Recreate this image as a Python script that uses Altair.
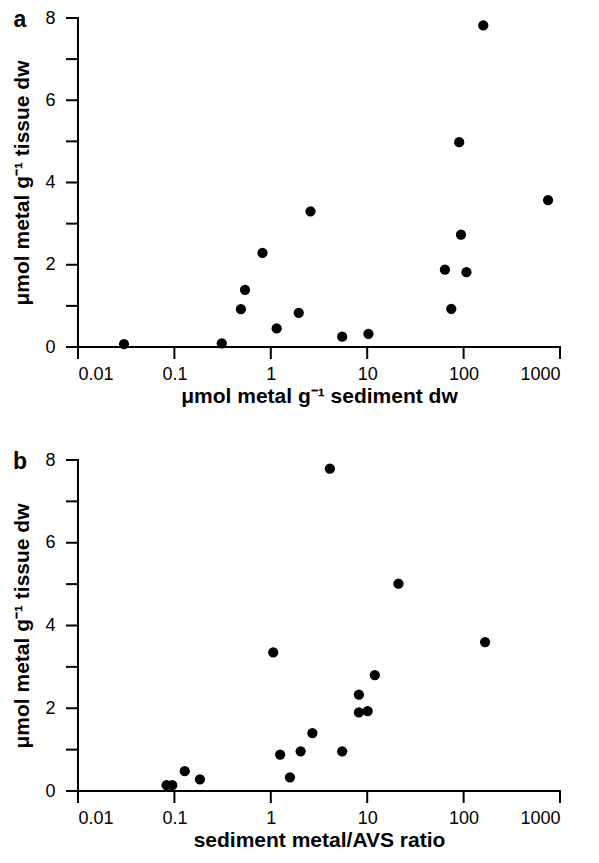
import altair as alt
import pandas as pd

# Panel a: sediment metal vs tissue metal
sed_a = [0.030, 0.31, 0.49, 0.54, 0.82, 1.15, 1.95, 2.58, 5.5, 10.3, 64, 74.5, 94, 107, 160, 90, 752]
tis_a = [0.07, 0.09, 0.92, 1.39, 2.29, 0.45, 0.83, 3.30, 0.25, 0.32, 1.88, 0.93, 2.73, 1.82, 7.82, 4.98, 3.57]

# Panel b: sediment metal/AVS ratio vs tissue metal
avs_b = [0.083, 0.095, 0.128, 0.184, 1.06, 1.25, 1.58, 2.04, 2.70, 5.5, 8.2, 8.2, 10.1, 12.0, 167, 4.1, 21.1]
tis_b = [0.14, 0.14, 0.48, 0.28, 3.35, 0.88, 0.33, 0.96, 1.40, 0.96, 2.33, 1.90, 1.93, 2.80, 3.60, 7.79, 5.01]

x_ticks = [0.01, 0.1, 1, 10, 100, 1000]
y_ticks = [0, 1, 2, 3, 4, 5, 6, 7, 8]

FONT = "Liberation Sans"
YTITLE = "μmol metal g⁻¹ tissue dw"
W = 482
TICK = 12

axis_style = dict(
    domain=False, ticks=False, grid=False,
    labelFont=FONT, labelFontSize=18, labelColor="#000000",
    titleFont=FONT, titleFontSize=21, titleFontWeight="bold", titleColor="#000000",
)

XSC = alt.Scale(type="log", domain=[0.01, 1000], nice=False)
YSC = alt.Scale(domain=[0, 8], nice=False, zero=True)


def panel(xs, ys, xtitle, letter, h):
    xax = alt.Axis(values=x_ticks, format="~g", title=xtitle,
                   labelPadding=TICK + 6, titlePadding=2, **axis_style)
    yax = alt.Axis(values=y_ticks, title=YTITLE,
                   labelPadding=TICK + 11, titlePadding=12,
                   labelExpr="datum.value % 2 == 0 ? datum.label : ''",
                   **axis_style)
    df = pd.DataFrame({"x": xs, "y": ys})
    pts = alt.Chart(df).mark_circle(size=105, color="black", opacity=1).encode(
        x=alt.X("x:Q", scale=XSC, axis=xax),
        y=alt.Y("y:Q", scale=YSC, axis=yax),
    )
    # axis lines and tick marks drawn from the tick value lists
    ytk = alt.Chart(pd.DataFrame({"y": y_ticks})).mark_rule(
        color="black", strokeWidth=2).encode(
        y=alt.Y("y:Q", scale=YSC, axis=yax),
        x=alt.value(-TICK), x2=alt.value(0))
    xtk = alt.Chart(pd.DataFrame({"x": x_ticks})).mark_rule(
        color="black", strokeWidth=2).encode(
        x=alt.X("x:Q", scale=XSC, axis=xax),
        y=alt.value(h), y2=alt.value(h + TICK))
    ydom = alt.Chart(pd.DataFrame({"v": [0]})).mark_rule(
        color="black", strokeWidth=2).encode(
        x=alt.value(0), y=alt.value(-1), y2=alt.value(h))
    xdom = alt.Chart(pd.DataFrame({"v": [0]})).mark_rule(
        color="black", strokeWidth=2).encode(
        y=alt.value(h), x=alt.value(0), x2=alt.value(W + 1))
    lab = alt.Chart(pd.DataFrame({"t": [letter]})).mark_text(
        font=FONT, fontWeight="bold", fontSize=23, color="black",
        align="center", baseline="middle").encode(
        text="t:N", x=alt.value(-58), y=alt.value(2))
    return alt.layer(pts, ytk, xtk, ydom, xdom, lab).properties(width=W, height=h)


a = panel(sed_a, tis_a, "μmol metal g⁻¹ sediment dw", "a", 329)
b = panel(avs_b, tis_b, "sediment metal/AVS ratio", "b", 331)

chart = alt.vconcat(a, b, spacing=45).properties(
    padding={"left": 3, "top": 1, "right": 0, "bottom": 0}
).configure_view(strokeWidth=0)

chart.save("out.html", embed_options={"renderer": "svg", "actions": False})
